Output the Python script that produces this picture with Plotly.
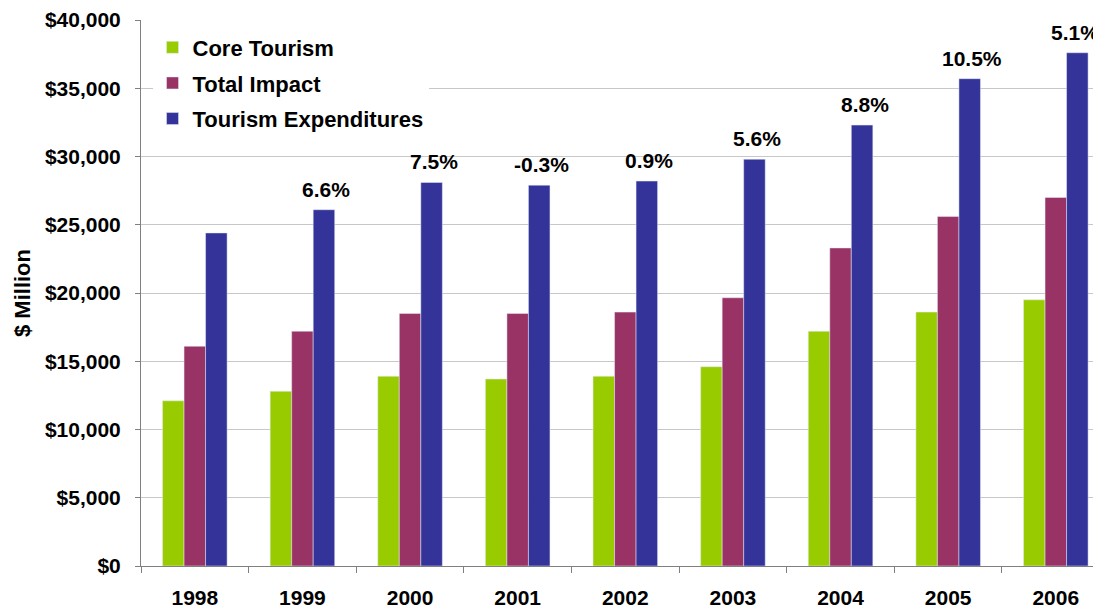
import plotly.graph_objects as go

years = ["1998", "1999", "2000", "2001", "2002", "2003", "2004", "2005", "2006"]
core_tourism = [12100, 12800, 13900, 13700, 13900, 14600, 17200, 18600, 19500]
total_impact = [16100, 17200, 18500, 18500, 18600, 19650, 23300, 25600, 27000]
tourism_expenditures = [24400, 26100, 28100, 27900, 28200, 29800, 32300, 35700, 37600]
growth_labels = ["", "6.6%", "7.5%", "-0.3%", "0.9%", "5.6%", "8.8%", "10.5%", "5.1%"]
y_ticks = [0, 5000, 10000, 15000, 20000, 25000, 30000, 35000, 40000]
y_tick_labels = ["$0", "$5,000", "$10,000", "$15,000", "$20,000", "$25,000",
                 "$30,000", "$35,000", "$40,000"]

FONT = "Liberation Sans, Arial, sans-serif"

fig = go.Figure()
fig.add_trace(go.Bar(x=years, y=core_tourism, name="Core Tourism",
                     marker_color="#99CC00", legendgroup="a"))
fig.add_trace(go.Bar(x=years, y=total_impact, name="Total Impact",
                     marker_color="#993366", legendgroup="b"))
fig.add_trace(go.Bar(x=years, y=tourism_expenditures, name="Tourism Expenditures",
                     marker_color="#333399", legendgroup="c"))

# page body has an 8px margin; compensate so the plot area lands where the reference has it
fig.update_layout(
    width=1093, height=602,
    margin=dict(l=133, r=0, t=12, b=44),
    paper_bgcolor="white", plot_bgcolor="white",
    barmode="group", bargap=0.40, bargroupgap=0,
    font=dict(family=FONT, size=21, color="#000000"),
    showlegend=True,
    legend=dict(x=0.012, y=0.988, xanchor="left", yanchor="top",
                bgcolor="white", borderwidth=0,
                traceorder="grouped", tracegroupgap=4,
                font=dict(family=FONT, size=22, color="#000000", weight="bold")),
)

fig.update_xaxes(
    type="category", range=[-0.5, 8.42],
    showline=True, linecolor="#808080", linewidth=1,
    ticks="outside", tickson="boundaries", ticklen=6, tickcolor="#808080",
    showgrid=False, ticklabelstandoff=13,
    tickfont=dict(family=FONT, size=21, color="#000000", weight="bold"),
)
fig.update_yaxes(
    range=[0, 40000], tickvals=y_ticks, ticktext=y_tick_labels,
    showline=True, linecolor="#808080", linewidth=1,
    ticks="outside", ticklen=5, tickcolor="#808080",
    showgrid=True, gridcolor="#C8C8C8", gridwidth=1,
    zeroline=False, ticklabelstandoff=10,
    tickfont=dict(family=FONT, size=21, color="#000000", weight="bold"),
)

# category index positions (the year strings would be read as numbers)
last = len(growth_labels) - 1
for i, (val, lab) in enumerate(zip(tourism_expenditures, growth_labels)):
    if not lab:
        continue
    font = dict(family=FONT, size=21, color="#000000", weight="bold")
    if i == last:
        # keep the last label inside the right edge of the page
        fig.add_annotation(x=1, y=val, text=lab, xref="paper", yref="y",
                           xanchor="right", yanchor="bottom",
                           xshift=0, yshift=7, showarrow=False, font=font)
    else:
        fig.add_annotation(x=i, y=val, text=lab, xref="x", yref="y",
                           xanchor="center", yanchor="bottom",
                           xshift=24, yshift=7, showarrow=False, font=font)

fig.add_annotation(text="$ Million", xref="paper", yref="paper", x=0, y=0.5,
                   xanchor="center", yanchor="middle", xshift=-119, textangle=-90,
                   showarrow=False,
                   font=dict(family=FONT, size=22, color="#000000", weight="bold"))

fig.write_html("out.html")
